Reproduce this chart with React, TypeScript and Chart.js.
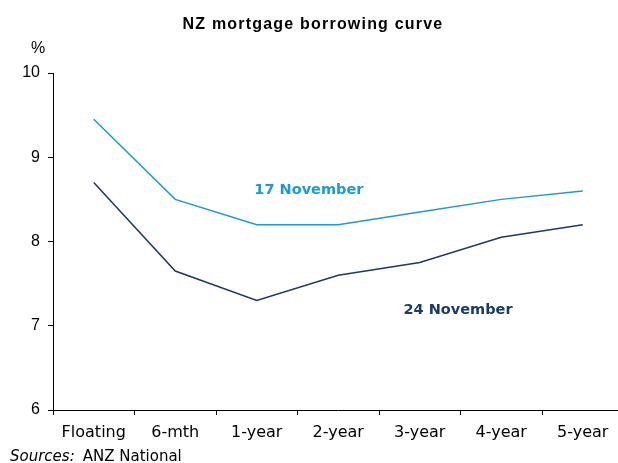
import React, { useEffect, useRef } from 'react';
import { Chart, registerables } from 'chart.js';

Chart.register(...registerables);

const categories = ['Floating', '6-mth', '1-year', '2-year', '3-year', '4-year', '5-year'];
const nov17 = [9.45, 8.5, 8.2, 8.2, 8.35, 8.5, 8.6];
const nov24 = [8.7, 7.65, 7.3, 7.6, 7.75, 8.05, 8.2];
const seriesNames = ['17 November', '24 November'];
const yMin = 6;
const yMax = 10;
const yStep = 1;
const chartTitle = 'NZ mortgage borrowing curve';
const unitLabel = '%';
const sourceLead = 'Sources:';
const sourceText = 'ANZ National';

const LIGHT = '#1a9ad7';
const DARK = '#1b3a6b';

const textPlugin = {
  id: 'textPlugin',
  afterDraw(chart: any) {
    const ctx = chart.ctx;
    const xs = chart.scales.x;
    const ys = chart.scales.y;
    ctx.save();
    // title
    ctx.fillStyle = '#000';
    ctx.font = 'bold 16px "Liberation Sans", Arial, sans-serif';
    (ctx as any).letterSpacing = '1.2px';
    ctx.textAlign = 'center';
    ctx.textBaseline = 'alphabetic';
    ctx.fillText(chartTitle, 313, 29);
    (ctx as any).letterSpacing = '0px';
    // unit
    ctx.font = '16px "Liberation Sans", Arial, sans-serif';
    ctx.textAlign = 'center';
    ctx.fillText(unitLabel, 38, 53);
    // series labels
    ctx.font = 'bold 14.5px "DejaVu Sans", sans-serif';
    ctx.textAlign = 'left';
    ctx.textBaseline = 'middle';
    ctx.fillStyle = LIGHT;
    ctx.fillText(seriesNames[0], xs.getPixelForValue(1.97), ys.getPixelForValue(8.61));
    ctx.fillStyle = DARK;
    ctx.fillText(seriesNames[1], xs.getPixelForValue(3.8), ys.getPixelForValue(7.18));
    // source
    ctx.fillStyle = '#000';
    ctx.textBaseline = 'alphabetic';
    ctx.font = 'italic 15px "DejaVu Sans", sans-serif';
    ctx.fillText(sourceLead, 10, 461);
    const w = ctx.measureText(sourceLead).width;
    ctx.font = '15px "DejaVu Sans", sans-serif';
    ctx.fillText(sourceText, 10 + w + 8, 461);
    ctx.restore();
  },
};

export default function App() {
  const ref = useRef<HTMLCanvasElement | null>(null);
  useEffect(() => {
    if (!ref.current) return;
    const chart = new Chart(ref.current, {
      type: 'line',
      data: {
        labels: categories,
        datasets: [
          { label: seriesNames[0], data: nov17, borderColor: LIGHT, borderWidth: 1.5, pointRadius: 0, tension: 0 },
          { label: seriesNames[1], data: nov24, borderColor: DARK, borderWidth: 1.5, pointRadius: 0, tension: 0 },
        ],
      },
      options: {
        responsive: false,
        animation: false,
        layout: { padding: { top: 73, right: 2.5, left: 0, bottom: 0 } },
        plugins: { legend: { display: false }, tooltip: { enabled: false }, title: { display: false } },
        scales: {
          x: {
            type: 'category',
            offset: true,
            grid: { display: true, drawOnChartArea: false, drawTicks: true, tickLength: 5, color: '#000', offset: true },
            border: { display: true, color: '#000', width: 1 },
            ticks: { font: { family: '"DejaVu Sans", sans-serif', size: 16 }, color: '#000', padding: 8, maxRotation: 0, autoSkip: false },
            afterFit: (s: any) => { s.height = 53; },
          },
          y: {
            min: yMin,
            max: yMax,
            grid: { display: true, drawOnChartArea: false, drawTicks: true, tickLength: 5, color: '#000' },
            border: { display: true, color: '#000', width: 1 },
            ticks: { stepSize: yStep, font: { family: '"Liberation Sans", Arial, sans-serif', size: 16 }, color: '#000', padding: 8 },
            afterFit: (s: any) => { s.width = 53; },
          },
        },
      },
      plugins: [textPlugin],
    });
    return () => chart.destroy();
  }, []);
  return (
    <div style={{ position: 'fixed', left: 0, top: 0, width: 618, height: 463, overflow: 'hidden', background: '#fff' }}>
      <canvas ref={ref} width={626} height={463} style={{ display: 'block', width: 626, height: 463 }} />
    </div>
  );
}
